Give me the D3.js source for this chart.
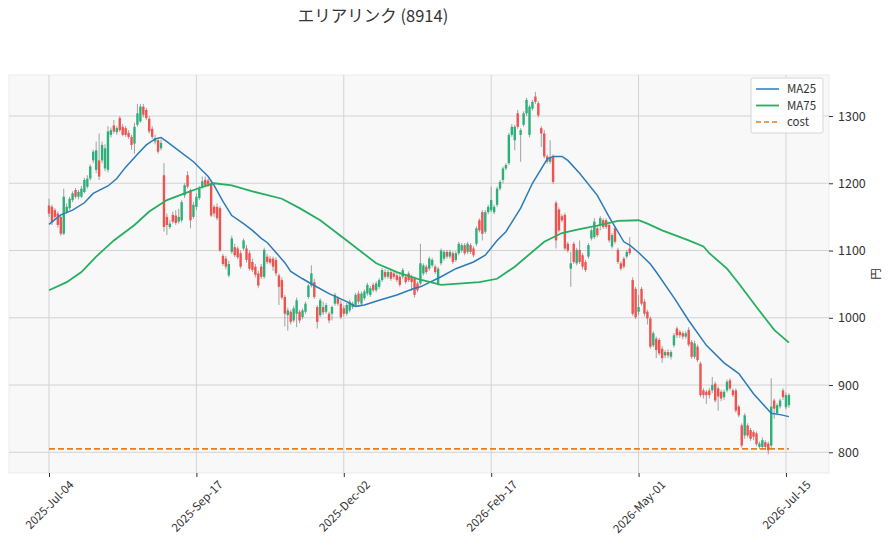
<!DOCTYPE html>
<html>
<head>
<meta charset="utf-8">
<script src="https://cdn.jsdelivr.net/npm/d3@7"></script>
<style>
  body { margin: 0; background: #fff; }
  svg text { font-family: "Noto Sans CJK JP", "Noto Sans", sans-serif; fill: #333; }
</style>
</head>
<body>
<div id="chart"></div>
<script>
// Chart data.
const title = "エリアリンク (8914)";
const yLabel = "円";

// Tick positions are trading-day indices; labels are the dates there.
const tickIdx = [0, 50, 100, 150, 200, 250];
const tickLabels = ["2025-Jul-04", "2025-Sep-17", "2025-Dec-02", "2026-Feb-17", "2026-May-01", "2026-Jul-15"];
const yTicks = [800, 900, 1000, 1100, 1200, 1300];

// Daily candles [open, high, low, close], one per trading day.
const ohlc = [
  [1167,1177,1150,1155],[1165,1168,1138,1142],[1160,1163,1146,1150],[1155,1158,1134,1138],[1150,1152,1122,1125],
  [1125,1192,1123,1180],[1157,1170,1155,1165],[1163,1180,1160,1177],[1175,1188,1172,1185],[1190,1193,1177,1180],
  [1180,1190,1176,1187],[1180,1196,1178,1192],[1187,1208,1185,1205],[1195,1212,1192,1207],[1207,1228,1204,1225],
  [1234,1250,1230,1247],[1220,1262,1215,1249],[1234,1274,1205,1210],[1234,1262,1230,1257],[1222,1258,1218,1252],
  [1220,1285,1216,1277],[1272,1283,1268,1279],[1286,1294,1274,1277],[1276,1285,1272,1282],[1297,1300,1276,1279],
  [1284,1288,1270,1272],[1282,1285,1269,1272],[1275,1279,1266,1269],[1269,1272,1250,1257],[1259,1290,1244,1284],
  [1287,1318,1284,1304],[1292,1318,1290,1314],[1314,1318,1298,1302],[1309,1312,1294,1297],[1296,1300,1274,1277],
  [1281,1285,1266,1269],[1262,1272,1258,1267],[1264,1268,1244,1247],[1252,1265,1249,1260],[1212,1230,1128,1135],
  [1150,1155,1123,1138],[1135,1145,1132,1140],[1153,1158,1140,1143],[1152,1160,1138,1141],[1143,1162,1140,1150],
  [1145,1175,1142,1172],[1182,1200,1178,1197],[1212,1218,1192,1195],[1190,1192,1133,1145],[1150,1172,1147,1168],
  [1165,1185,1160,1180],[1178,1196,1175,1192],[1195,1210,1192,1203],[1205,1210,1194,1197],[1204,1207,1195,1198],
  [1200,1203,1150,1152],[1165,1168,1150,1155],[1165,1170,1145,1148],[1163,1166,1098,1100],[1092,1095,1077,1080],
  [1088,1092,1072,1076],[1063,1085,1060,1080],[1098,1122,1095,1118],[1105,1110,1090,1093],[1103,1106,1087,1090],
  [1096,1100,1073,1076],[1103,1118,1100,1115],[1103,1108,1082,1086],[1096,1100,1070,1073],[1083,1088,1068,1071],
  [1076,1080,1060,1064],[1066,1070,1044,1048],[1076,1080,1058,1061],[1061,1104,1058,1101],[1091,1095,1080,1083],
  [1088,1092,1079,1082],[1088,1091,1070,1076],[1086,1090,1062,1066],[1063,1066,1019,1046],[1056,1060,1027,1030],
  [1031,1034,987,1006],[1004,1015,981,1011],[1009,1012,990,994],[996,1018,993,1014],[1006,1030,986,1026],
  [1009,1012,992,996],[1001,1014,998,1011],[1009,1024,1006,1021],[1031,1050,1028,1048],[1048,1078,1045,1066],
  [1053,1058,1028,1031],[1016,1019,984,994],[1004,1029,1001,1026],[1016,1024,1004,1008],[1009,1022,1006,1019],
  [1006,1009,992,996],[1006,1018,996,1016],[1021,1037,1018,1034],[1029,1032,1018,1021],[1021,1026,998,1001],
  [1014,1018,1002,1006],[1006,1022,1003,1019],[1011,1027,1008,1024],[1016,1024,1013,1021],[1019,1037,1016,1034],
  [1036,1040,1020,1024],[1021,1039,1018,1036],[1029,1042,1026,1039],[1036,1052,1033,1049],[1034,1047,1031,1044],
  [1049,1052,1038,1041],[1041,1054,1038,1051],[1046,1059,1043,1056],[1056,1074,1053,1071],[1068,1072,1058,1061],
  [1061,1071,1058,1068],[1068,1071,1055,1058],[1066,1069,1057,1061],[1063,1067,1053,1056],[1061,1065,1046,1049],
  [1061,1074,1058,1071],[1061,1064,1050,1053],[1066,1069,1053,1056],[1061,1064,1040,1053],[1058,1061,1030,1034],
  [1051,1054,1038,1041],[1051,1110,1048,1081],[1066,1081,1063,1078],[1076,1079,1065,1068],[1073,1091,1070,1088],
  [1078,1089,1075,1086],[1076,1079,1065,1068],[1051,1076,1048,1073],[1081,1103,1078,1100],[1088,1101,1085,1098],
  [1098,1101,1088,1091],[1091,1101,1088,1098],[1096,1099,1080,1083],[1086,1099,1083,1096],[1096,1113,1093,1110],
  [1100,1111,1097,1108],[1108,1111,1093,1096],[1098,1113,1095,1110],[1108,1111,1095,1098],[1103,1106,1090,1093],
  [1110,1136,1107,1133],[1145,1148,1127,1130],[1157,1160,1115,1125],[1128,1160,1125,1157],[1157,1168,1154,1165],
  [1160,1195,1157,1175],[1157,1168,1154,1165],[1168,1195,1165,1192],[1192,1205,1189,1202],[1205,1225,1200,1222],
  [1222,1230,1219,1227],[1230,1275,1227,1272],[1272,1288,1269,1284],[1264,1287,1249,1284],[1304,1309,1281,1284],
  [1272,1282,1232,1279],[1287,1307,1284,1304],[1304,1327,1300,1324],[1272,1317,1268,1314],[1311,1324,1308,1321],
  [1329,1336,1318,1321],[1319,1322,1298,1301],[1282,1285,1254,1274],[1274,1279,1237,1240],[1240,1243,1229,1232],
  [1232,1264,1229,1239],[1240,1243,1199,1202],[1171,1174,1103,1115],[1161,1164,1127,1130],[1151,1154,1142,1145],
  [1153,1156,1100,1103],[1110,1113,1097,1100],[1073,1098,1046,1081],[1110,1113,1080,1083],[1081,1104,1078,1101],
  [1101,1115,1080,1083],[1093,1096,1072,1076],[1083,1086,1068,1071],[1091,1111,1088,1108],[1118,1133,1115,1130],
  [1120,1148,1117,1143],[1133,1136,1120,1123],[1138,1151,1130,1148],[1145,1148,1132,1135],[1145,1148,1132,1135],
  [1138,1141,1112,1115],[1106,1126,1103,1123],[1133,1136,1110,1113],[1101,1104,1080,1083],[1081,1084,1070,1073],
  [1088,1091,1073,1076],[1091,1101,1088,1098],[1103,1120,1093,1096],[1056,1060,1003,1006],[1043,1046,998,1001],
  [1009,1034,1004,1016],[1043,1046,1018,1021],[1024,1028,1002,1006],[1009,1012,990,999],[999,1002,954,957],
  [959,980,956,977],[969,972,940,952],[967,970,944,947],[954,958,933,940],[944,952,940,949],
  [949,953,940,944],[942,952,938,949],[959,977,956,974],[984,987,970,974],[979,982,970,974],
  [977,980,968,972],[972,980,969,977],[982,986,957,960],[964,967,939,942],[942,966,939,962],
  [957,960,934,937],[932,935,882,885],[892,895,880,885],[890,893,872,885],[892,896,880,885],
  [892,912,888,900],[902,905,874,877],[895,898,862,883],[890,893,876,880],[882,893,878,890],
  [892,908,889,905],[907,910,892,895],[892,895,882,885],[892,895,859,862],[868,871,852,855],
  [840,843,807,810],[825,858,820,855],[840,843,822,825],[833,836,817,820],[830,833,818,823],
  [828,831,809,812],[808,816,805,813],[808,822,805,818],[815,818,805,808],[813,816,797,803],
  [810,910,806,868],[877,880,850,865],[858,873,855,870],[868,880,865,877],[892,895,878,882],
  [867,889,864,885],[870,888,866,885]
];

// Moving averages as [index, value] points.
const ma25 = [
  [0,1139],[4,1153],[8,1160],[12,1171],[15,1185],[20,1196],[23,1207],[26,1224],[30,1243],[33,1257],
  [36,1266],[38,1268],[40,1262],[43,1252],[49,1232],[54,1210],[56,1197],[59,1173],[62,1152],[66,1140],
  [69,1130],[72,1118],[74,1112],[77,1097],[80,1082],[82,1069],[86,1058],[90,1048],[95,1036],[101,1024],
  [104,1017],[107,1019],[112,1026],[118,1034],[124,1044],[126,1046],[133,1061],[138,1073],[144,1083],[148,1093],
  [152,1115],[155,1128],[160,1163],[164,1200],[169,1236],[171,1240],[174,1240],[176,1234],[180,1215],[186,1182],
  [190,1150],[195,1113],[197,1108],[200,1097],[204,1080],[206,1068],[212,1030],[217,996],[223,959],[229,933],
  [234,917],[239,887],[245,858],[248,856],[251,853]
];
const ma75 = [
  [0,1041],[6,1053],[11,1068],[16,1091],[22,1115],[29,1138],[34,1158],[40,1175],[46,1185],[51,1193],
  [56,1200],[62,1197],[69,1188],[79,1177],[85,1163],[92,1145],[101,1115],[111,1081],[118,1068],[125,1058],
  [133,1049],[146,1053],[152,1058],[158,1076],[168,1113],[174,1126],[180,1132],[186,1137],[193,1144],[200,1145],
  [203,1140],[208,1130],[217,1115],[222,1106],[224,1096],[230,1073],[234,1051],[240,1016],[246,982],[251,963]
];
const cost = 805;

const legendNames = ["MA25", "MA75", "cost"];

// Layout
const width = 890;
const height = 549;
const plot = { left: 9, right: 829, top: 75, bottom: 473 };

const colorUp = "#2bb07a";
const colorDown = "#ef5350";
const colorMa25 = "#2b7bba";
const colorMa75 = "#27ae60";
const colorCost = "#e67e22";

let svg = null;
let xScale = null;
let yScale = null;

function initializeSvg() {
  svg = d3.select("#chart")
    .append("svg")
    .attr("width", width)
    .attr("height", height);
}

function initializeScales() {
  // candle index axis, matplotlib-style margins around the data
  xScale = d3.scaleLinear()
    .domain([-13.57, 264.6])
    .range([plot.left, plot.right]);
  yScale = d3.scaleLinear()
    .domain([769.2, 1361])
    .range([plot.bottom, plot.top]);
}

function initializeBackground() {
  svg.append("rect")
    .attr("x", plot.left)
    .attr("y", plot.top)
    .attr("width", plot.right - plot.left)
    .attr("height", plot.bottom - plot.top)
    .attr("fill", "#f8f8f8")
    .attr("stroke", "#ebebeb");

  // grid
  svg.append("g")
    .selectAll("line")
    .data(yTicks)
    .join("line")
    .attr("x1", plot.left)
    .attr("x2", plot.right)
    .attr("y1", (d) => yScale(d))
    .attr("y2", (d) => yScale(d))
    .attr("stroke", "#d3d3d3")
    .attr("stroke-width", 1);

  svg.append("g")
    .selectAll("line")
    .data(tickIdx)
    .join("line")
    .attr("x1", (d) => xScale(d))
    .attr("x2", (d) => xScale(d))
    .attr("y1", plot.top)
    .attr("y2", plot.bottom)
    .attr("stroke", "#d3d3d3")
    .attr("stroke-width", 1);
}

function initializeAxis() {
  // Y axis on the right side, plain integers
  const yAxis = svg.append("g")
    .attr("transform", `translate(${plot.right},0)`)
    .call(d3.axisRight(yScale)
            .tickValues(yTicks)
            .tickFormat(d3.format("d"))
            .tickSize(4)
            .tickPadding(5));
  yAxis.select(".domain").remove();
  yAxis.selectAll("line").attr("stroke", "#333");
  yAxis.selectAll("text")
    .attr("font-size", 12.5)
    .attr("fill", "#333");

  svg.append("text")
    .attr("text-anchor", "middle")
    .attr("font-size", 11.5)
    .attr("transform", `translate(880,${(plot.top + plot.bottom) / 2})rotate(-90)`)
    .text(yLabel);

  // X axis: ticks at candle indices, rotated date labels
  const xAxis = svg.append("g")
    .attr("transform", `translate(0,${plot.bottom})`)
    .call(d3.axisBottom(xScale).tickValues(tickIdx).tickSize(4).tickFormat(() => ""));
  xAxis.select(".domain").remove();
  xAxis.selectAll("line").attr("stroke", "#333");

  const labels = svg.append("g")
    .selectAll("text")
    .data(tickIdx)
    .join("text")
    .attr("font-size", 11.5)
    .attr("text-anchor", "middle")
    .attr("dominant-baseline", "central")
    .text((d, i) => tickLabels[i]);
  labels.attr("transform", function (d) {
    const len = this.getComputedTextLength();
    const cy = plot.bottom + 9 + len * 0.707 / 2;
    return `translate(${xScale(d)},${cy})rotate(-45)`;
  });
}

function initializeCandles() {
  const bodyW = 2.4;
  const g = svg.append("g");

  g.selectAll("line")
    .data(ohlc)
    .join("line")
    .attr("x1", (d, i) => xScale(i))
    .attr("x2", (d, i) => xScale(i))
    .attr("y1", (d) => yScale(d[1]))
    .attr("y2", (d) => yScale(d[2]))
    .attr("stroke", "#8c8c8c")
    .attr("stroke-width", 0.8);

  g.selectAll("rect")
    .data(ohlc)
    .join("rect")
    .attr("x", (d, i) => xScale(i) - bodyW / 2)
    .attr("width", bodyW)
    .attr("y", (d) => yScale(Math.max(d[0], d[3])))
    .attr("height", (d) => Math.max(1, Math.abs(yScale(d[0]) - yScale(d[3]))))
    .attr("fill", (d) => d[3] >= d[0] ? colorUp : colorDown);
}

function initializeLines() {
  const line = d3.line()
    .x((d) => xScale(d[0]))
    .y((d) => yScale(d[1]));

  svg.append("path")
    .datum(ma25)
    .attr("d", line)
    .attr("fill", "none")
    .attr("stroke", colorMa25)
    .attr("stroke-width", 1.5);

  svg.append("path")
    .datum(ma75)
    .attr("d", line)
    .attr("fill", "none")
    .attr("stroke", colorMa75)
    .attr("stroke-width", 1.8);

  svg.append("line")
    .attr("x1", xScale(0))
    .attr("x2", xScale(ohlc.length - 1))
    .attr("y1", yScale(cost))
    .attr("y2", yScale(cost))
    .attr("stroke", colorCost)
    .attr("stroke-width", 1.8)
    .attr("stroke-dasharray", "6,3");
}

function initializeLegend() {
  const colors = [colorMa25, colorMa75, colorCost];
  const lg = svg.append("g").attr("transform", "translate(751,78)");
  lg.append("rect")
    .attr("width", 72)
    .attr("height", 55)
    .attr("rx", 2)
    .attr("fill", "#fff")
    .attr("fill-opacity", 0.85)
    .attr("stroke", "#d6d6d6");

  const rows = lg.selectAll("g.row")
    .data(legendNames)
    .join("g")
    .attr("class", "row")
    .attr("transform", (d, i) => `translate(0,${11 + i * 16.5})`);
  rows.append("line")
    .attr("x1", 5)
    .attr("x2", 28)
    .attr("stroke", (d, i) => colors[i])
    .attr("stroke-width", (d, i) => i === 1 ? 1.8 : 1.5)
    .attr("stroke-dasharray", (d, i) => i === 2 ? "5,3" : null);
  rows.append("text")
    .attr("x", 36)
    .attr("dy", "0.35em")
    .attr("font-size", 11.5)
    .text((d) => d);
}

function initializeTitle() {
  svg.append("text")
    .attr("x", 373)
    .attr("y", 22)
    .attr("text-anchor", "middle")
    .attr("font-size", 16.5)
    .attr("fill", "#222")
    .text(title);
}

initializeSvg();
initializeScales();
initializeBackground();
initializeCandles();
initializeLines();
initializeAxis();
initializeLegend();
initializeTitle();
</script>
</body>
</html>
